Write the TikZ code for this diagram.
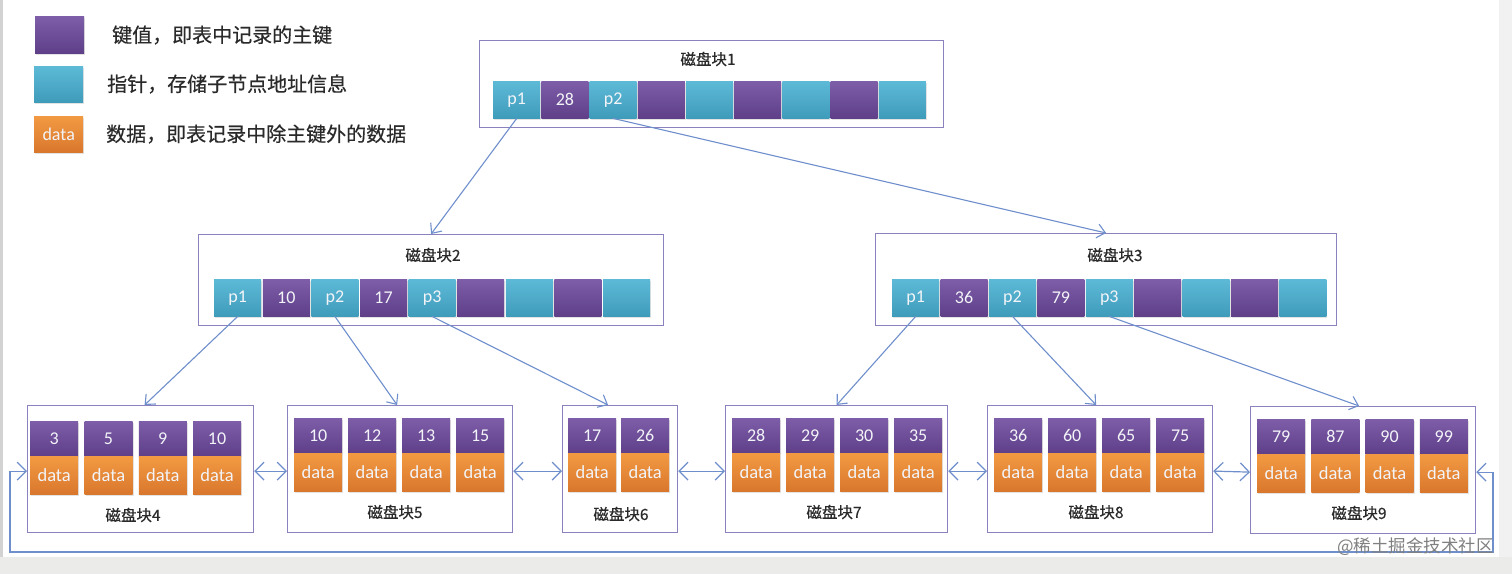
\documentclass[tikz,border=0pt]{standalone}
\usepackage{fontspec}
\setmainfont{Carlito}
\newfontfamily\cjk{Noto Sans CJK SC}
\newfontfamily\cjkb[FakeBold=0.4]{Noto Sans CJK SC}
\usetikzlibrary{arrows.meta,shadows,calc}
\definecolor{keyT}{HTML}{7E5DA9}
\definecolor{keyB}{HTML}{5E3F88}
\definecolor{ptrT}{HTML}{5DBAD7}
\definecolor{ptrB}{HTML}{3F9BBA}
\definecolor{datT}{HTML}{F29A42}
\definecolor{datB}{HTML}{D9772D}
\definecolor{boxc}{HTML}{8A82BE}
\definecolor{arrc}{HTML}{6F8FCC}
\definecolor{titlec}{HTML}{2A2A2A}
\definecolor{bandc}{HTML}{EBEBE9}
\definecolor{stripc}{HTML}{F1F1F1}
\definecolor{edgec}{HTML}{D2D2D2}
\definecolor{celltext}{HTML}{F2F4F8}
\tikzset{
  cellbase/.style={inner sep=0pt, anchor=north west, text=celltext,
    drop shadow={opacity=0.22, shadow xshift=1pt, shadow yshift=-2pt}},
  keycell/.style={cellbase, top color=keyT, bottom color=keyB},
  ptrcell/.style={cellbase, top color=ptrT, bottom color=ptrB},
  datacell/.style={cellbase, top color=datT, bottom color=datB},
  innercell/.style={minimum width=47pt, minimum height=37pt, font=\fontsize{18}{18}\selectfont},
  leafkey/.style={keycell, minimum width=48pt, minimum height=35pt, font=\fontsize{18}{18}\selectfont, drop shadow={opacity=0}},
  leafdata/.style={datacell, minimum width=48pt, minimum height=38pt, font=\fontsize{18.5}{18.5}\selectfont},
  blockbox/.style={draw=boxc, line width=1.2pt, fill=white, anchor=north west, inner sep=0pt},
  blocktitle/.style={font=\cjkb\fontsize{15.5}{15.5}\selectfont, text=titlec, inner sep=0pt},
  legendtext/.style={font=\cjkb\fontsize{20}{20}\selectfont, text=titlec, anchor=west, inner sep=0pt},
  link/.style={draw=arrc, line width=1.1pt, -{Straight Barb[length=8pt,width=14pt]}},
  dlink/.style={draw=arrc, line width=1.2pt, {Straight Barb[length=9pt,width=18pt]}-{Straight Barb[length=9pt,width=18pt]}},
}
\begin{document}
\begin{tikzpicture}[x=1pt,y=-1pt]
\useasboundingbox (0,0) rectangle (1512,574);
\fill[white] (0,0) rectangle (1512,574);
\fill[bandc] (0,557) rectangle (1512,574);
\fill[stripc] (1499,0) rectangle (1512,557);
\fill[edgec] (0,0) rectangle (3,557);

% legend
\node[keycell, minimum width=49pt, minimum height=37pt] (lgk) at (35,16) {};
\node[ptrcell, minimum width=49pt, minimum height=36pt] (lgp) at (34,66) {};
\node[datacell, minimum width=49pt, minimum height=36pt, font=\fontsize{18}{18}\selectfont] (lgd) at (34,116) {data};
\node[legendtext] (lgkt) at (112,35) {键值，即表中记录的主键};
\node[legendtext] (lgpt) at (107,84) {指针，存储子节点地址信息};
\node[legendtext] (lgdt) at (106,134) {数据，即表记录中除主键外的数据};

% internal blocks
\node[blockbox, minimum width=464pt, minimum height=87pt] (b1) at (479,40) {};
\node[blocktitle] (b1t) at (708,59) {磁盘块1};
\foreach \lab [count=\k from 0] in {p1,p2,{},{},{}} {
  \pgfmathtruncatemacro\ci{2*\k}
  \node[ptrcell, innercell] (b1c\ci) at ({493+2*\k*48.2},81) {\lab};
}
\foreach \lab [count=\k from 0] in {28,{},{},{}} {
  \pgfmathtruncatemacro\ci{2*\k+1}
  \node[keycell, innercell] (b1c\ci) at ({493+(2*\k+1)*48.2},81) {\lab};
}

\node[blockbox, minimum width=465pt, minimum height=91pt] (b2) at (198,234) {};
\node[blocktitle] (b2t) at (433,255) {磁盘块2};
\foreach \lab [count=\k from 0] in {p1,p2,p3,{},{}} {
  \pgfmathtruncatemacro\ci{2*\k}
  \node[ptrcell, innercell] (b2c\ci) at ({214+2*\k*48.6},279) {\lab};
}
\foreach \lab [count=\k from 0] in {10,17,{},{}} {
  \pgfmathtruncatemacro\ci{2*\k+1}
  \node[keycell, innercell] (b2c\ci) at ({214+(2*\k+1)*48.6},279) {\lab};
}

\node[blockbox, minimum width=461pt, minimum height=92pt] (b3) at (875,233) {};
\node[blocktitle] (b3t) at (1115,255) {磁盘块3};
\foreach \lab [count=\k from 0] in {p1,p2,p3,{},{}} {
  \pgfmathtruncatemacro\ci{2*\k}
  \node[ptrcell, innercell] (b3c\ci) at ({892+2*\k*48.4},279) {\lab};
}
\foreach \lab [count=\k from 0] in {36,79,{},{}} {
  \pgfmathtruncatemacro\ci{2*\k+1}
  \node[keycell, innercell] (b3c\ci) at ({892+(2*\k+1)*48.4},279) {\lab};
}

% leaf blocks
\node[blockbox, minimum width=226pt, minimum height=127pt] (b4) at (27,405) {};
\node[blockbox, minimum width=225pt, minimum height=127pt] (b5) at (287,405) {};
\node[blockbox, minimum width=115pt, minimum height=127pt] (b6) at (562,405) {};
\node[blockbox, minimum width=222pt, minimum height=127pt] (b7) at (725,405) {};
\node[blockbox, minimum width=225pt, minimum height=127pt] (b8) at (987,405) {};
\node[blockbox, minimum width=225pt, minimum height=127pt] (b9) at (1250,406) {};

\foreach \lab [count=\k from 0] in {3,5,9,10} {
  \node[leafkey] (b4k\k) at ({30+\k*54.3},421) {\lab};
  \node[leafdata] (b4d\k) at ({30+\k*54.3},456) {data};
}
\foreach \lab [count=\k from 0] in {10,12,13,15} {
  \node[leafkey] (b5k\k) at ({294+\k*54},418) {\lab};
  \node[leafdata] (b5d\k) at ({294+\k*54},453) {data};
}
\foreach \lab [count=\k from 0] in {17,26} {
  \node[leafkey] (b6k\k) at ({568+\k*53},418) {\lab};
  \node[leafdata] (b6d\k) at ({568+\k*53},453) {data};
}
\foreach \lab [count=\k from 0] in {28,29,30,35} {
  \node[leafkey] (b7k\k) at ({732+\k*54},418) {\lab};
  \node[leafdata] (b7d\k) at ({732+\k*54},453) {data};
}
\foreach \lab [count=\k from 0] in {36,60,65,75} {
  \node[leafkey] (b8k\k) at ({994+\k*54},418) {\lab};
  \node[leafdata] (b8d\k) at ({994+\k*54},453) {data};
}
\foreach \lab [count=\k from 0] in {79,87,90,99} {
  \node[leafkey] (b9k\k) at ({1257+\k*54.2},419) {\lab};
  \node[leafdata] (b9d\k) at ({1257+\k*54.2},454) {data};
}
\node[blocktitle] (b4t) at (133,515) {磁盘块4};
\node[blocktitle] (b5t) at (395,512) {磁盘块5};
\node[blocktitle] (b6t) at (621,514) {磁盘块6};
\node[blocktitle] (b7t) at (834,512) {磁盘块7};
\node[blocktitle] (b8t) at (1096,512) {磁盘块8};
\node[blocktitle] (b9t) at (1359,513) {磁盘块9};

% tree links
\draw[link] (b1c0.south) -- (b2.north);
\draw[link] (b1c2.south) -- (b3.north);
\draw[link] (b2c0.south) -- ([xshift=4pt]b4.north);
\draw[link] (b2c2.south) -- ([xshift=-3pt]b5.north);
\draw[link] (b2c4.south) -- ([xshift=-12pt]b6.north);
\draw[link] (b3c0.south) -- (b7.north);
\draw[link] (b3c2.south) -- ([xshift=-4pt]b8.north);
\draw[link] (b3c4.south) -- ([xshift=-4pt]b9.north);

% leaf links
\draw[dlink] ([yshift=-2pt]b4.east) -- ([yshift=-2pt]b5.west);
\draw[dlink] ([yshift=-2pt]b5.east) -- ([yshift=-2pt]b6.west);
\draw[dlink] ([yshift=-2pt]b6.east) -- ([yshift=-2pt]b7.west);
\draw[dlink] ([yshift=-2pt]b7.east) -- ([yshift=-2pt]b8.west);
\draw[dlink] ([yshift=-2pt]b8.east) -- ([yshift=-2pt]b9.west);
\coordinate (lr) at (1493,552);
\coordinate (ll) at (10,552);
\draw[dlink] ([yshift=-2pt]b9.east) -| (lr) -- (ll) |- ([yshift=-2pt]b4.west);

\node[font=\cjk\fontsize{17.5}{17.5}\selectfont, text=black!50, anchor=east, inner sep=0pt] (wm) at (1494,547) {@稀土掘金技术社区};
\end{tikzpicture}
\end{document}
